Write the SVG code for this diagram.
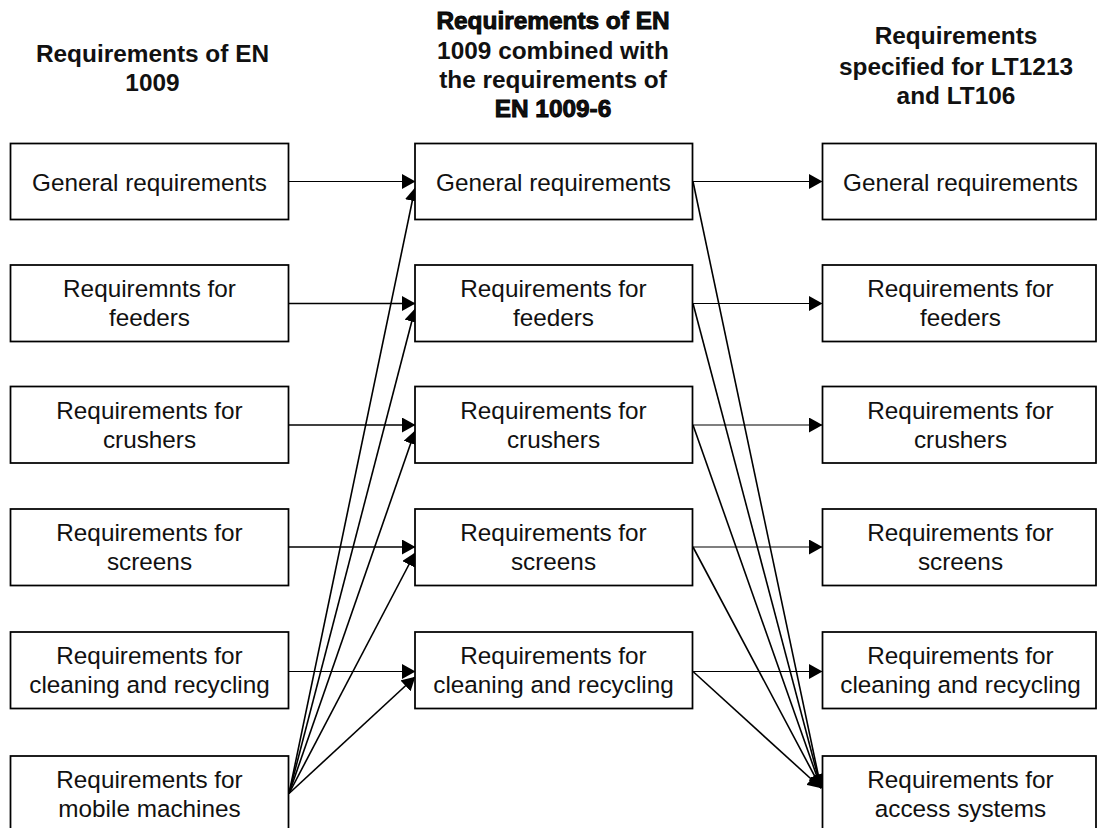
<svg xmlns="http://www.w3.org/2000/svg" width="1097" height="828" viewBox="0 0 1097 828">
<style>
.box{fill:#fff;stroke:#000;stroke-width:1.75}
.t{font-family:"Liberation Sans",Arial,sans-serif;font-size:24.3px;fill:#111;text-anchor:middle}
.h{font-family:"Liberation Sans",Arial,sans-serif;font-size:24.4px;font-weight:bold;fill:#111;text-anchor:middle}
.hh{stroke:#000;stroke-width:0.9px}
.c{stroke:#000;fill:none}
.thin{stroke-width:1.1}
.thick{stroke-width:1.6}
</style>
<defs>
<marker id="ah" markerUnits="userSpaceOnUse" markerWidth="14" markerHeight="15" viewBox="0 0 14 15" refX="13" refY="7.5" orient="auto">
<path d="M0,0 L13.5,7.5 L0,15 z" fill="#000"/>
</marker>
</defs>
<rect width="1097" height="828" fill="#fff"/>
<g id="titles">
<text class="h" x="152.5" y="61.7">Requirements of EN</text>
<text class="h" x="152.5" y="91">1009</text>
<text class="h hh" x="553" y="29.3">Requirements of EN</text>
<text class="h" x="553" y="58.5">1009 combined with</text>
<text class="h" x="553" y="87.6">the requirements of</text>
<text class="h hh" x="553" y="117">EN 1009-6</text>
<text class="h" x="956" y="44.3">Requirements</text>
<text class="h" x="956" y="74.5">specified for LT1213</text>
<text class="h" x="956" y="103.5">and LT106</text>
</g>
<g id="connectors">
<line class="c thin" x1="289" y1="181.5" x2="415" y2="181.5" marker-end="url(#ah)"/>
<line class="c thick" x1="289" y1="303.5" x2="415" y2="303.5" marker-end="url(#ah)"/>
<line class="c thick" x1="289" y1="425" x2="415" y2="425" marker-end="url(#ah)"/>
<line class="c thick" x1="289" y1="547" x2="415" y2="547" marker-end="url(#ah)"/>
<line class="c thin" x1="289" y1="671.5" x2="415" y2="671.5" marker-end="url(#ah)"/>
<line class="c thick" x1="289" y1="793.5" x2="415" y2="188" marker-end="url(#ah)"/>
<line class="c thick" x1="289" y1="793.5" x2="415" y2="309" marker-end="url(#ah)"/>
<line class="c thick" x1="289" y1="793.5" x2="415" y2="431" marker-end="url(#ah)"/>
<line class="c thick" x1="289" y1="793.5" x2="415" y2="553" marker-end="url(#ah)"/>
<line class="c thick" x1="289" y1="793.5" x2="415" y2="677" marker-end="url(#ah)"/>
<line class="c thin" x1="693" y1="181.5" x2="822" y2="181.5" marker-end="url(#ah)"/>
<line class="c thin" x1="693" y1="303.5" x2="822" y2="303.5" marker-end="url(#ah)"/>
<line class="c thin" x1="693" y1="425" x2="822" y2="425" marker-end="url(#ah)"/>
<line class="c thin" x1="693" y1="547" x2="822" y2="547" marker-end="url(#ah)"/>
<line class="c thin" x1="693" y1="671.5" x2="822" y2="671.5" marker-end="url(#ah)"/>
<line class="c thick" x1="693" y1="181.5" x2="821" y2="788" marker-end="url(#ah)"/>
<line class="c thick" x1="693" y1="303.5" x2="821" y2="788" marker-end="url(#ah)"/>
<line class="c thick" x1="693" y1="425" x2="821" y2="788" marker-end="url(#ah)"/>
<line class="c thick" x1="693" y1="547" x2="821" y2="788" marker-end="url(#ah)"/>
<line class="c thick" x1="693" y1="671.5" x2="821" y2="788" marker-end="url(#ah)"/>
</g>
<g id="l1"><rect class="box" x="10.5" y="143.5" width="278" height="76"/><text class="t" x="149.5" y="191">General requirements</text></g>
<g id="l2"><rect class="box" x="10.5" y="265" width="278" height="76.5"/><text class="t" x="149.5" y="297.3">Requiremnts for</text><text class="t" x="149.5" y="326.3">feeders</text></g>
<g id="l3"><rect class="box" x="10.5" y="386.5" width="278" height="76.5"/><text class="t" x="149.5" y="418.5">Requirements for</text><text class="t" x="149.5" y="447.5">crushers</text></g>
<g id="l4"><rect class="box" x="10.5" y="509" width="278" height="76.5"/><text class="t" x="149.5" y="541">Requirements for</text><text class="t" x="149.5" y="570">screens</text></g>
<g id="l5"><rect class="box" x="10.5" y="632" width="278" height="76.5"/><text class="t" x="149.5" y="664">Requirements for</text><text class="t" x="149.5" y="693">cleaning and recycling</text></g>
<g id="l6"><rect class="box" x="10.5" y="756" width="278" height="80"/><text class="t" x="149.5" y="788">Requirements for</text><text class="t" x="149.5" y="817">mobile machines</text></g>
<g id="m1"><rect class="box" x="415" y="143.5" width="277.5" height="76"/><text class="t" x="553.5" y="191">General requirements</text></g>
<g id="m2"><rect class="box" x="415" y="265" width="277.5" height="76.5"/><text class="t" x="553.5" y="297.3">Requirements for</text><text class="t" x="553.5" y="326.3">feeders</text></g>
<g id="m3"><rect class="box" x="415" y="386.5" width="277.5" height="76.5"/><text class="t" x="553.5" y="418.5">Requirements for</text><text class="t" x="553.5" y="447.5">crushers</text></g>
<g id="m4"><rect class="box" x="415" y="509" width="277.5" height="76.5"/><text class="t" x="553.5" y="541">Requirements for</text><text class="t" x="553.5" y="570">screens</text></g>
<g id="m5"><rect class="box" x="415" y="632" width="277.5" height="76.5"/><text class="t" x="553.5" y="664">Requirements for</text><text class="t" x="553.5" y="693">cleaning and recycling</text></g>
<g id="r1"><rect class="box" x="822.5" y="143.5" width="273.5" height="76"/><text class="t" x="960.5" y="191">General requirements</text></g>
<g id="r2"><rect class="box" x="822.5" y="265" width="273.5" height="76.5"/><text class="t" x="960.5" y="297.3">Requirements for</text><text class="t" x="960.5" y="326.3">feeders</text></g>
<g id="r3"><rect class="box" x="822.5" y="386.5" width="273.5" height="76.5"/><text class="t" x="960.5" y="418.5">Requirements for</text><text class="t" x="960.5" y="447.5">crushers</text></g>
<g id="r4"><rect class="box" x="822.5" y="509" width="273.5" height="76.5"/><text class="t" x="960.5" y="541">Requirements for</text><text class="t" x="960.5" y="570">screens</text></g>
<g id="r5"><rect class="box" x="822.5" y="632" width="273.5" height="76.5"/><text class="t" x="960.5" y="664">Requirements for</text><text class="t" x="960.5" y="693">cleaning and recycling</text></g>
<g id="r6"><rect class="box" x="822.5" y="756" width="273.5" height="80"/><text class="t" x="960.5" y="788">Requirements for</text><text class="t" x="960.5" y="817">access systems</text></g>
</svg>
